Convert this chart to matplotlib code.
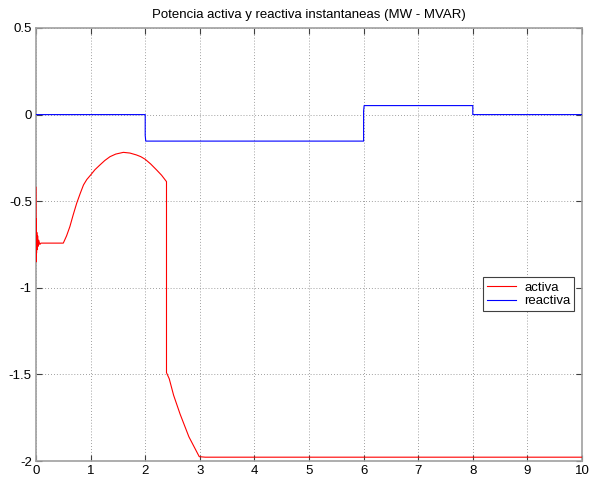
import matplotlib
matplotlib.use("Agg")
import matplotlib.pyplot as plt

# Active power (MW) over time (s)
t_activa = [0.0, 0.0, 0.003, 0.006, 0.010, 0.015, 0.020, 0.030, 0.040, 0.050,
            0.070, 0.090, 0.50, 0.56, 0.62, 0.68, 0.745, 0.81, 0.87, 0.93,
            1.00, 1.08, 1.17, 1.26, 1.355, 1.46, 1.60, 1.72, 1.84, 1.92,
            2.00, 2.10, 2.21, 2.30, 2.39, 2.39, 2.44, 2.52, 2.64, 2.80,
            2.99, 3.10, 10.0]
p_activa = [-0.42, -0.42, -0.85, -0.60, -0.80, -0.68, -0.78, -0.70, -0.76, -0.725,
            -0.75, -0.742, -0.742, -0.70, -0.647, -0.58, -0.512, -0.455, -0.406, -0.375,
            -0.349, -0.318, -0.291, -0.265, -0.243, -0.228, -0.218, -0.222, -0.233, -0.243,
            -0.258, -0.285, -0.320, -0.350, -0.387, -1.49, -1.525, -1.62, -1.73, -1.86,
            -1.975, -1.978, -1.978]

# Reactive power (MVAR) over time (s)
t_reactiva = [0.0, 2.0, 2.0, 2.01, 6.0, 6.0, 6.01, 8.0, 8.0, 10.0]
q_reactiva = [0.0, 0.0, -0.12, -0.153, -0.153, 0.02, 0.052, 0.052, 0.0, 0.0]

titulo = "Potencia activa y reactiva instantaneas (MW - MVAR)"
etiquetas = ["activa", "reactiva"]
x_ticks = [0, 1, 2, 3, 4, 5, 6, 7, 8, 9, 10]
y_ticks = [-2, -1.5, -1, -0.5, 0, 0.5]
y_labels = ["-2", "-1.5", "-1", "-0.5", "0", "0.5"]

plt.rcParams["font.family"] = ["Liberation Sans", "DejaVu Sans"]

fig = plt.figure(figsize=(5.9, 4.78), dpi=100)
ax = fig.add_axes([36 / 590, 1 - 461 / 478, 546 / 590, 433 / 478])

ax.plot(t_activa, p_activa, color="red", lw=0.8, label=etiquetas[0], zorder=3)
ax.plot(t_reactiva, q_reactiva, color="blue", lw=0.8, label=etiquetas[1], zorder=3)

ax.set_xlim(0, 10)
ax.set_ylim(-2, 0.5)
ax.set_xticks(x_ticks)
ax.set_xticklabels([str(v) for v in x_ticks])
ax.set_yticks(y_ticks)
ax.set_yticklabels(y_labels)

ax.grid(True, color="#808080", linestyle=(0, (1, 2.5)), linewidth=0.6)
ax.tick_params(direction="in", length=4, width=0.8, color="#404040",
               top=True, right=True, labelsize=9.5, pad=3)
for s in ax.spines.values():
    s.set_color("#a0a0a0")
    s.set_linewidth(1.2)

ax.set_title(titulo, fontsize=9.5, pad=7)

leg = ax.legend(loc="upper left", bbox_to_anchor=(0.819, 0.424),
                fontsize=9.5, frameon=True, fancybox=False, borderpad=0.3,
                handlelength=2.2, handletextpad=0.6, labelspacing=0.1,
                borderaxespad=0)
leg.get_frame().set_edgecolor("#404040")
leg.get_frame().set_linewidth(0.8)
leg.get_frame().set_alpha(1)
leg.set_zorder(5)

fig.savefig("out.png", dpi=100)
